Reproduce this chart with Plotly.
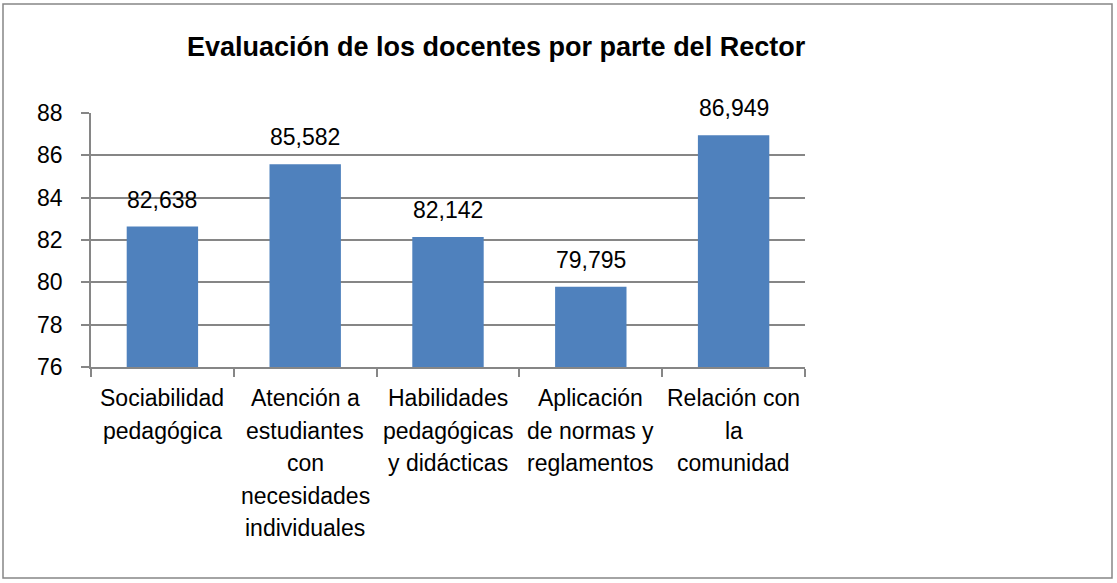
import plotly.graph_objects as go

categories = ["Sociabilidad pedagógica", "Atención a estudiantes con necesidades individuales",
              "Habilidades pedagógicas y didácticas", "Aplicación de normas y reglamentos",
              "Relación con la comunidad"]
label_lines = [
    ["Sociabilidad", "pedagógica"],
    ["Atención a", "estudiantes", "con", "necesidades", "individuales"],
    ["Habilidades", "pedagógicas", "y didácticas"],
    ["Aplicación", "de normas y", "reglamentos"],
    ["Relación con", "la", "comunidad"],
]
values = [82.638, 85.582, 82.142, 79.795, 86.949]
title = "Evaluación de los docentes por parte del Rector"

FONT = "Liberation Sans"
FS = 23
GRID = "#868686"

W, H = 1117, 583
L, R, T, B = 91, 1117 - 805, 113, 583 - 367
pw, ph = W - L - R, H - T - B

fig = go.Figure(go.Bar(x=categories, y=values, marker=dict(color="#4F81BD", line=dict(width=0)),
                       width=0.5, hoverinfo="skip"))

ann = []
for c, v in zip(categories, values):
    ann.append(dict(x=c, y=v, xref="x", yref="y", text=f"{v:.3f}".replace(".", ","),
                    showarrow=False, yanchor="bottom", yshift=12,
                    font=dict(family=FONT, size=FS, color="#000")))
for c, lines in zip(categories, label_lines):
    for i, ln in enumerate(lines):
        ann.append(dict(x=c, y=0, xref="x", yref="paper", text=ln, showarrow=False,
                        yanchor="middle", yshift=-(31 + i * 32.5),
                        font=dict(family=FONT, size=FS, color="#000")))
ann.append(dict(x=(496 - L) / pw, y=1 + (T - 47) / ph, xref="paper", yref="paper",
                xanchor="center", yanchor="middle", text="<b>" + title + "</b>",
                showarrow=False, font=dict(family=FONT, size=27, color="#000")))

fig.update_layout(
    width=W, height=H,
    margin=dict(l=L, r=R, t=T, b=B),
    paper_bgcolor="white", plot_bgcolor="white",
    showlegend=False,
    annotations=ann,
    shapes=[dict(type="rect", xref="paper", yref="paper",
                 x0=(3 - L) / pw, x1=(1112 - L) / pw,
                 y0=-(578 - 367) / ph, y1=1 + (T - 4) / ph,
                 line=dict(color=GRID, width=1.5), fillcolor="rgba(0,0,0,0)", layer="below")],
    xaxis=dict(type="category", showgrid=False, showline=True, linecolor=GRID, linewidth=1.5,
               ticks="outside", ticklen=8, tickcolor=GRID, tickwidth=1.5, tickson="boundaries",
               showticklabels=False, fixedrange=True),
    yaxis=dict(range=[76, 88], dtick=2, showgrid=True, gridcolor=GRID, gridwidth=1.5,
               showline=True, linecolor=GRID, linewidth=1.5, ticks="outside", ticklen=8,
               tickcolor=GRID, tickwidth=1.5, zeroline=False, ticklabelstandoff=14,
               tickfont=dict(family=FONT, size=FS, color="#000"), fixedrange=True),
)

fig.write_html("out.html", config={"displayModeBar": False},
               post_script="document.body.style.margin='0';document.body.style.overflow='hidden';")
